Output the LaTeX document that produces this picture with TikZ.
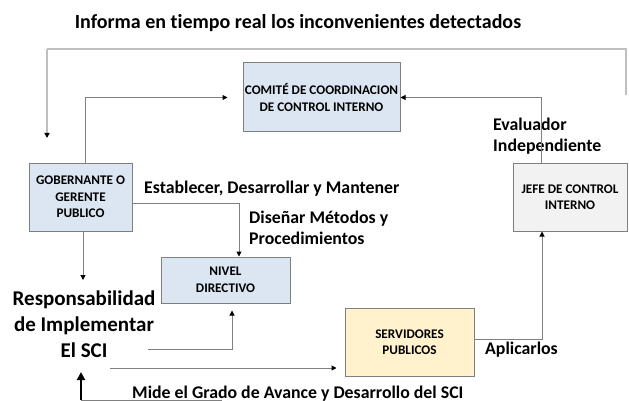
\documentclass[tikz,border=0pt]{standalone}
\usepackage{fontspec}
\setmainfont{Carlito}[Ligatures={NoCommon}]
\usetikzlibrary{arrows.meta,calc}
\definecolor{boxblue}{HTML}{DCE6F2}
\definecolor{jefegray}{HTML}{F2F2F2}
\definecolor{servyellow}{HTML}{FFF2CC}
\definecolor{boxborder}{HTML}{7F7F7F}
\definecolor{linegray}{HTML}{808080}
\definecolor{framegray}{HTML}{BFBFBF}
\begin{document}
\begin{tikzpicture}[x=1pt,y=-1pt,
  box/.style={draw=boxborder, line width=1pt, inner sep=0pt, align=center,
    font=\bfseries\fontsize{13.2}{16.5}\selectfont},
  lbl/.style={inner sep=0pt, font=\bfseries\fontsize{17.8}{21}\selectfont},
  resplbl/.style={inner sep=0pt, font=\bfseries\fontsize{21}{26}\selectfont},
  titlelbl/.style={inner sep=0pt, font=\bfseries\fontsize{20}{23}\selectfont},
  tip/.style={-{Triangle[length=5pt,width=5pt,color=black]}},
  conn/.style={draw=linegray, line width=1pt, tip},
  frameline/.style={draw=framegray, line width=1.2pt},
  bigarrow/.style={draw=black, line width=2pt, -{Triangle[length=8pt,width=8pt]}}
]
\useasboundingbox (0,0) rectangle (629,401);

% title
\node[titlelbl, anchor=base] (title) at (298,28.5) {Informa en tiempo real los inconvenientes detectados};

% boxes
\node[box, fill=boxblue, minimum width=157, minimum height=69] (comite) at (321.5,97.5) {COMITÉ DE COORDINACION\\DE CONTROL INTERNO};
\node[box, fill=boxblue, minimum width=103, minimum height=68] (gob) at (80.5,197) {GOBERNANTE O\\GERENTE\\PUBLICO};
\node[box, fill=boxblue, minimum width=129, minimum height=46] (nivel) at (225.5,280) {NIVEL\\DIRECTIVO};
\node[box, fill=jefegray, minimum width=114, minimum height=68] (jefe) at (570,197) {JEFE DE CONTROL\\INTERNO};
\node[box, fill=servyellow, minimum width=129, minimum height=68] (serv) at (409.5,342) {SERVIDORES\\PUBLICOS};

% labels
\node[lbl, anchor=west, align=left] (evalu) at (493,136.5) {Evaluador\\Independiente};
\node[lbl, anchor=base west] (estab) at (144,193) {Establecer, Desarrollar y Mantener};
\node[lbl, anchor=west, align=left] (disen) at (249,227.5) {Diseñar Métodos y\\Procedimientos};
\node[resplbl, align=center] (resp) at (84,324) {Responsabilidad\\de Implementar\\El SCI};
\node[lbl, anchor=base west] (aplic) at (485,354) {Aplicarlos};
\node[lbl, anchor=base west] (mide) at (132,398) {Mide el Grado de Avance y Desarrollo del SCI};

% free-end coordinates
\coordinate (frR) at (626,95);
\coordinate (frTR) at (626,49);
\coordinate (frTL) at (47,49);
\coordinate (frL) at (47,138);
\coordinate (respIn) at (83,280);
\coordinate (sciA) at (148,349);
\coordinate (sciB) at (110,368);
\coordinate (botR) at (222,400);
\coordinate (botL) at (81,400);
\coordinate (botTip) at (81,372);

% connectors
\draw[frameline] (frR) -- (frTR) -- (frTL);
\draw[frameline, tip] (frTL) -- (frL);
\draw[conn] ($(gob.north)+(4.5,0)$) |- ($(comite.west)+(-15,0)$);
\draw[conn] ($(jefe.north)+(-29,0)$) |- (comite.east);
\draw[conn] ($(gob.east)+(0,6)$) -| ($(nivel.north)+(13.5,0)$);
\draw[conn] ($(gob.south)+(2.5,0)$) -- (respIn);
\draw[conn, shorten >=7pt] (sciA) -| ($(nivel.south)+(6.5,0)$);
\draw[conn, shorten >=8pt] (sciB) -- (serv.west |- sciB);
\draw[conn] ($(serv.east)+(0,-3)$) -| ($(jefe.south)+(-28,0)$);
\draw[draw=linegray, line width=0.8pt] (botR) -- (botL);
\draw[bigarrow] (botL) -- (botTip);
\end{tikzpicture}
\end{document}
